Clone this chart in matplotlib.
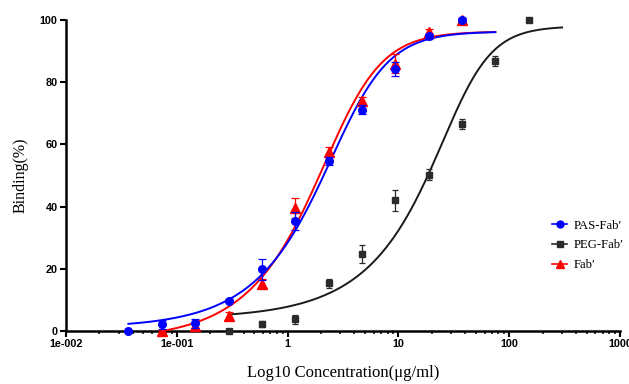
import numpy as np
import matplotlib
matplotlib.use("Agg")
import matplotlib.pyplot as plt
from matplotlib.ticker import LogLocator, NullFormatter, FixedLocator
from matplotlib.lines import Line2D

# ---- data ----
conc = [0.0366, 0.0732, 0.146, 0.293, 0.586, 1.17, 2.34, 4.69, 9.375, 18.75, 37.5, 75, 150]

pas_x = conc[0:11]
pas_y = [0.0, 2.1, 2.5, 9.8, 19.8, 35.4, 54.6, 71.2, 84.2, 94.8, 100.0]
pas_err = [0.0, 1.4, 1.5, 0.5, 3.5, 3.0, 1.3, 1.5, 2.2, 0.8, 0.5]

fab_x = conc[1:11]
fab_y = [0.0, 1.6, 4.8, 15.2, 39.6, 57.6, 74.0, 86.0, 96.0, 100.0]
fab_err = [0.3, 1.0, 1.3, 1.5, 3.2, 1.5, 1.2, 3.0, 1.2, 0.5]

peg_x = conc[3:13]
peg_y = [0.0, 2.3, 3.8, 15.3, 24.8, 42.0, 50.3, 66.7, 86.7, 100.0]
peg_err = [0.0, 1.0, 1.5, 1.5, 3.0, 3.3, 1.7, 1.6, 1.6, 0.0]

# fitted curve parameters: bottom, top, c, hill, asymmetry ; x range
pas_fit = [1.0, 96.3, 3.59, 1.8, 0.52]
pas_range = [0.0366, 75]
fab_fit = [-3.0, 96.3, 3.11, 1.8, 0.52]
fab_range = [0.0732, 75]
peg_fit = [4.0, 98.0, 38.2, 2.2, 0.40]
peg_range = [0.293, 300]

labels = ["PAS-Fab", "PEG-Fab", "Fab"]
xtick_vals = [0.01, 0.1, 1, 10, 100, 1000]
xtick_labels = ["1e-002", "1e-001", "1", "10", "100", "1000"]
ytick_vals = [0, 20, 40, 60, 80, 100]


def fivepl(x, p):
    b, t, c, h, s = p
    return b + (t - b) / (1 + (c / x) ** h) ** s


fig = plt.figure(figsize=(6.29, 3.84), dpi=100)
ax = fig.add_axes([66 / 629, 1 - 331 / 384, (620 - 66) / 629, (331 - 20) / 384])

blue = "#0000FF"
red = "#FF0000"
black = "#2B2B2B"

# curves
for fit, rng, col, z in [(peg_fit, peg_range, "#1a1a1a", 2), (fab_fit, fab_range, red, 3), (pas_fit, pas_range, blue, 4)]:
    xs = np.geomspace(rng[0], rng[1], 400)
    ax.plot(xs, fivepl(xs, fit), color=col, lw=1.4, zorder=z, clip_on=False)

# points with error bars
h_peg = ax.errorbar(peg_x, peg_y, yerr=peg_err, fmt="s", color=black, ms=4.2,
                    ecolor=black, elinewidth=0.9, capsize=2.5, capthick=0.9, zorder=5)
h_fab = ax.errorbar(fab_x, fab_y, yerr=fab_err, fmt="^", color=red, ms=6.5,
                    ecolor=red, elinewidth=0.9, capsize=3, capthick=0.9, zorder=6)
h_pas = ax.errorbar(pas_x, pas_y, yerr=pas_err, fmt="o", color=blue, ms=5.5,
                    ecolor=blue, elinewidth=0.9, capsize=3, capthick=0.9, zorder=7)
for h in (h_peg, h_fab, h_pas):
    h.lines[0].set_clip_on(False)
    for art in list(h.lines[1]) + list(h.lines[2]):
        art.set_clip_on(False)

ax.set_xscale("log")
ax.set_xlim(0.01, 1000)
ax.set_ylim(0, 100)

for sp in ["top", "right"]:
    ax.spines[sp].set_visible(False)
for sp in ["left", "bottom"]:
    ax.spines[sp].set_linewidth(1.8)
    ax.spines[sp].set_color("black")

ax.xaxis.set_major_locator(FixedLocator(xtick_vals))
ax.set_xticklabels(xtick_labels)
ax.xaxis.set_minor_locator(LogLocator(base=10, subs=np.arange(2, 10), numticks=20))
ax.xaxis.set_minor_formatter(NullFormatter())
ax.set_yticks(ytick_vals)

ax.tick_params(axis="both", which="major", direction="out", length=4, width=1.5,
               labelsize=7.8, pad=2)
ax.tick_params(axis="x", which="minor", direction="out", length=2.5, width=1.1)
for lab in ax.get_xticklabels() + ax.get_yticklabels():
    lab.set_fontfamily("Liberation Sans")
    lab.set_fontweight("bold")

ax.set_ylabel("Binding(%)", family="Liberation Serif", fontsize=11.5, labelpad=8)
ax.set_xlabel("Log10 Concentration(μg/ml)", family="Liberation Serif", fontsize=12, labelpad=11)

# legend
handles = [
    Line2D([], [], color=blue, marker="o", ms=5, lw=1.2),
    Line2D([], [], color=black, marker="s", ms=4, lw=1.2),
    Line2D([], [], color=red, marker="^", ms=6, lw=1.2),
]
leg_labels = [l + "\u2032" for l in labels]
leg = ax.legend(handles, leg_labels, loc="center left", bbox_to_anchor=(0.877, 0.275),
                frameon=False, prop={"family": "Liberation Serif", "size": 9.2},
                handlelength=1.2, handletextpad=0.5, labelspacing=0.6,
                borderpad=0, borderaxespad=0)

fig.savefig("out.png", dpi=100)
